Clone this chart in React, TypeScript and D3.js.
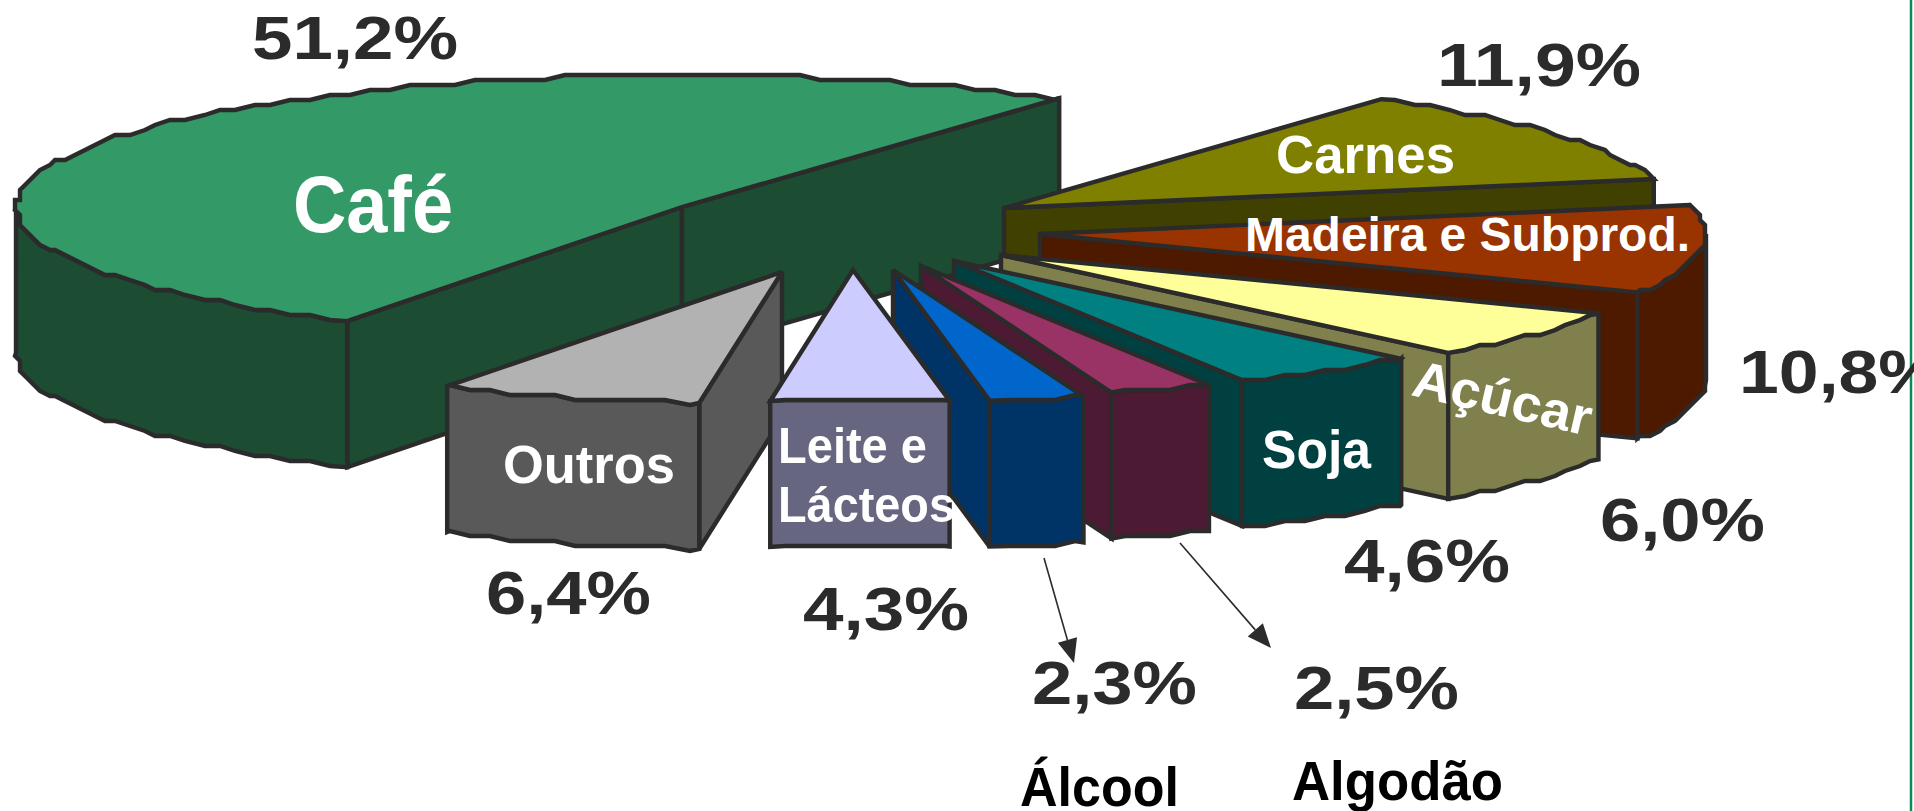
import React from "react";
import * as d3 from "d3";

const WIDTH = 1914;
const HEIGHT = 811;

// Values (clockwise from the Carnes slice)
const categories = ["Carnes", "Madeira e Subprod.", "Açúcar", "Soja", "Algodão", "Álcool", "Leite e Lácteos", "Outros", "Café"];
const shares = [11.9, 10.8, 6.0, 4.6, 2.5, 2.3, 4.3, 6.4, 51.2];
const topColors = ["#808000", "#993300", "#ffff99", "#008080", "#993366", "#0066cc", "#ccccff", "#b2b2b2", "#339966"];
const sideColors = ["#404000", "#4d1a00", "#80804d", "#004040", "#4d1a33", "#003366", "#666680", "#595959", "#1c4d33"];

// Layout: exploded apex of every slice, painter's order
const apexX = [1004, 1040, 1001, 954, 921, 893, 853, 782, 682];
const apexY = [208, 234, 255, 261, 266, 270, 270, 272, 207];
const drawOrder = [8, 7, 0, 1, 2, 3, 4, 5, 6];

const RX = 666;
const RY = 132;
const DEPTH = 146;
const START_DEG = 34.5;
const INK = "#2b2b2b";

const percentLabels = [
  { i: 8, x0: 252, x1: 458, y: 59 },
  { i: 0, x0: 1437, x1: 1641, y: 86 },
  { i: 1, x0: 1739, x1: 1942, y: 393 },
  { i: 2, x0: 1600, x1: 1765, y: 541 },
  { i: 3, x0: 1344, x1: 1510, y: 582 },
  { i: 4, x0: 1294, x1: 1459, y: 709 },
  { i: 5, x0: 1032, x1: 1197, y: 704 },
  { i: 6, x0: 803, x1: 969, y: 630 },
  { i: 7, x0: 486, x1: 651, y: 614 },
];

const whiteLabels = [
  { text: "Café", x0: 293, x1: 453, y: 232, size: 80 },
  { text: "Carnes", x0: 1276, x1: 1455, y: 173, size: 54 },
  { text: "Madeira e Subprod.", x0: 1245, x1: 1690, y: 251, size: 48 },
  { text: "Soja", x0: 1262, x1: 1371, y: 468, size: 54 },
  { text: "Leite e", x0: 778, x1: 927, y: 463, size: 50 },
  { text: "Lácteos", x0: 778, x1: 955, y: 522, size: 50 },
  { text: "Outros", x0: 503, x1: 675, y: 483, size: 54 },
];

const blackLabels = [
  { text: "Álcool", x0: 1020, x1: 1179, y: 806, size: 56 },
  { text: "Algodão", x0: 1292, x1: 1503, y: 800, size: 56 },
];

const arrows = [
  { x1: 1044, y1: 558, x2: 1074, y2: 663 },
  { x1: 1180, y1: 543, x2: 1271, y2: 648 },
];

type P = [number, number];

const pieAngles = d3
  .pie<number>()
  .sort(null)
  .value((d) => d)
  .startAngle((START_DEG * Math.PI) / 180)
  .endAngle(((START_DEG + 360) * Math.PI) / 180)(shares);

const radial = (cx: number, cy: number, a: number): P => [cx + RX * Math.sin(a), cy - RY * Math.cos(a)];

// The rim is stair-stepped, as in the low-resolution original. The sampling grid
// is fixed per slice so the top face and the wall below it share their points.
const GRID = Math.PI / 90;
function rim(cx: number, cy: number, a0: number, a1: number): P[] {
  const first = Math.ceil(a0 / GRID + 1e-6);
  const last = Math.floor(a1 / GRID - 1e-6);
  const inner = d3.range(first, last + 1).map((k) => {
    const p = radial(cx, cy, k * GRID);
    return [Math.round(p[0] / 5) * 5, Math.round(p[1] / 5) * 5] as P;
  });
  return [radial(cx, cy, a0), ...inner, radial(cx, cy, a1)];
}

const down = (pts: P[]): P[] => pts.map(([x, y]) => [x, y + DEPTH] as P);
const outline = d3.line<P>();
const closed = (pts: P[]) => outline(pts) + "Z";

function frontFacing(apex: P, edge: P, mid: P) {
  const dx = edge[0] - apex[0];
  if (Math.abs(dx) < 1e-6) return false;
  const yAt = apex[1] + ((mid[0] - apex[0]) * (edge[1] - apex[1])) / dx;
  return mid[1] < yAt;
}

function Slice({ i }: { i: number }) {
  const { startAngle: a0, endAngle: a1 } = pieAngles[i];
  const cx = apexX[i];
  const cy = apexY[i];
  const apex: P = [cx, cy];
  const p0 = radial(cx, cy, a0);
  const p1 = radial(cx, cy, a1);
  const mid = radial(cx, cy, (a0 + a1) / 2);
  const top = [apex, ...rim(cx, cy, a0, a1)];
  const walls: P[][] = [];
  [p0, p1].forEach((p) => {
    if (frontFacing(apex, p, mid)) walls.push([apex, p, [p[0], p[1] + DEPTH], [cx, cy + DEPTH]]);
  });
  const f0 = Math.max(a0, Math.PI / 2);
  const f1 = Math.min(a1, (3 * Math.PI) / 2);
  if (f1 > f0) {
    const r = rim(cx, cy, f0, f1);
    walls.push([...r, ...down(r).reverse()]);
  }
  const common = { stroke: INK, strokeWidth: 4.4, strokeLinejoin: "miter" as const, strokeMiterlimit: 3 };
  return (
    <g>
      {walls.map((w, k) => (
        <path key={k} d={closed(w)} fill={sideColors[i]} {...common} />
      ))}
      <path d={closed(top)} fill={topColors[i]} {...common} />
    </g>
  );
}

function Arrow({ x1, y1, x2, y2 }: { x1: number; y1: number; x2: number; y2: number }) {
  const t = Math.atan2(y2 - y1, x2 - x1);
  const len = 24;
  const half = 10;
  const bx = x2 - len * Math.cos(t);
  const by = y2 - len * Math.sin(t);
  const nx = -Math.sin(t) * half;
  const ny = Math.cos(t) * half;
  return (
    <g>
      <line x1={x1} y1={y1} x2={bx} y2={by} stroke={INK} strokeWidth={1.6} />
      <polygon points={`${x2},${y2} ${bx + nx},${by + ny} ${bx - nx},${by - ny}`} fill={INK} />
    </g>
  );
}

const fmt = (v: number) => v.toFixed(1).replace(".", ",") + "%";
const FONT = "'Liberation Sans', Arial, sans-serif";

export default function App() {
  return (
    <svg
      width={WIDTH}
      height={HEIGHT}
      viewBox={`0 0 ${WIDTH} ${HEIGHT}`}
      style={{ position: "fixed", left: 0, top: 0, background: "#fff" }}
      fontFamily={FONT}
      fontWeight="bold"
    >
      <line x1={1911} y1={0} x2={1911} y2={HEIGHT} stroke="#0a8a5c" strokeWidth={2.5} />
      {drawOrder.map((i) => (
        <Slice key={i} i={i} />
      ))}
      {whiteLabels.map((l) => (
        <text key={l.text} x={l.x0} y={l.y} fontSize={l.size} fill="#fff" textLength={l.x1 - l.x0} lengthAdjust="spacingAndGlyphs">
          {l.text}
        </text>
      ))}
      <text
        transform="translate(1410,395) rotate(13)"
        fontSize={52}
        fill="#fff"
        textLength={182}
        lengthAdjust="spacingAndGlyphs"
      >
        {categories[2]}
      </text>
      {percentLabels.map((l) => (
        <text key={l.i} x={l.x0} y={l.y} fontSize={62} fill={INK} textLength={l.x1 - l.x0} lengthAdjust="spacingAndGlyphs">
          {fmt(shares[l.i])}
        </text>
      ))}
      {arrows.map((a, k) => (
        <Arrow key={k} {...a} />
      ))}
      {blackLabels.map((l) => (
        <text key={l.text} x={l.x0} y={l.y} fontSize={l.size} fill="#000" textLength={l.x1 - l.x0} lengthAdjust="spacingAndGlyphs">
          {l.text}
        </text>
      ))}
    </svg>
  );
}
